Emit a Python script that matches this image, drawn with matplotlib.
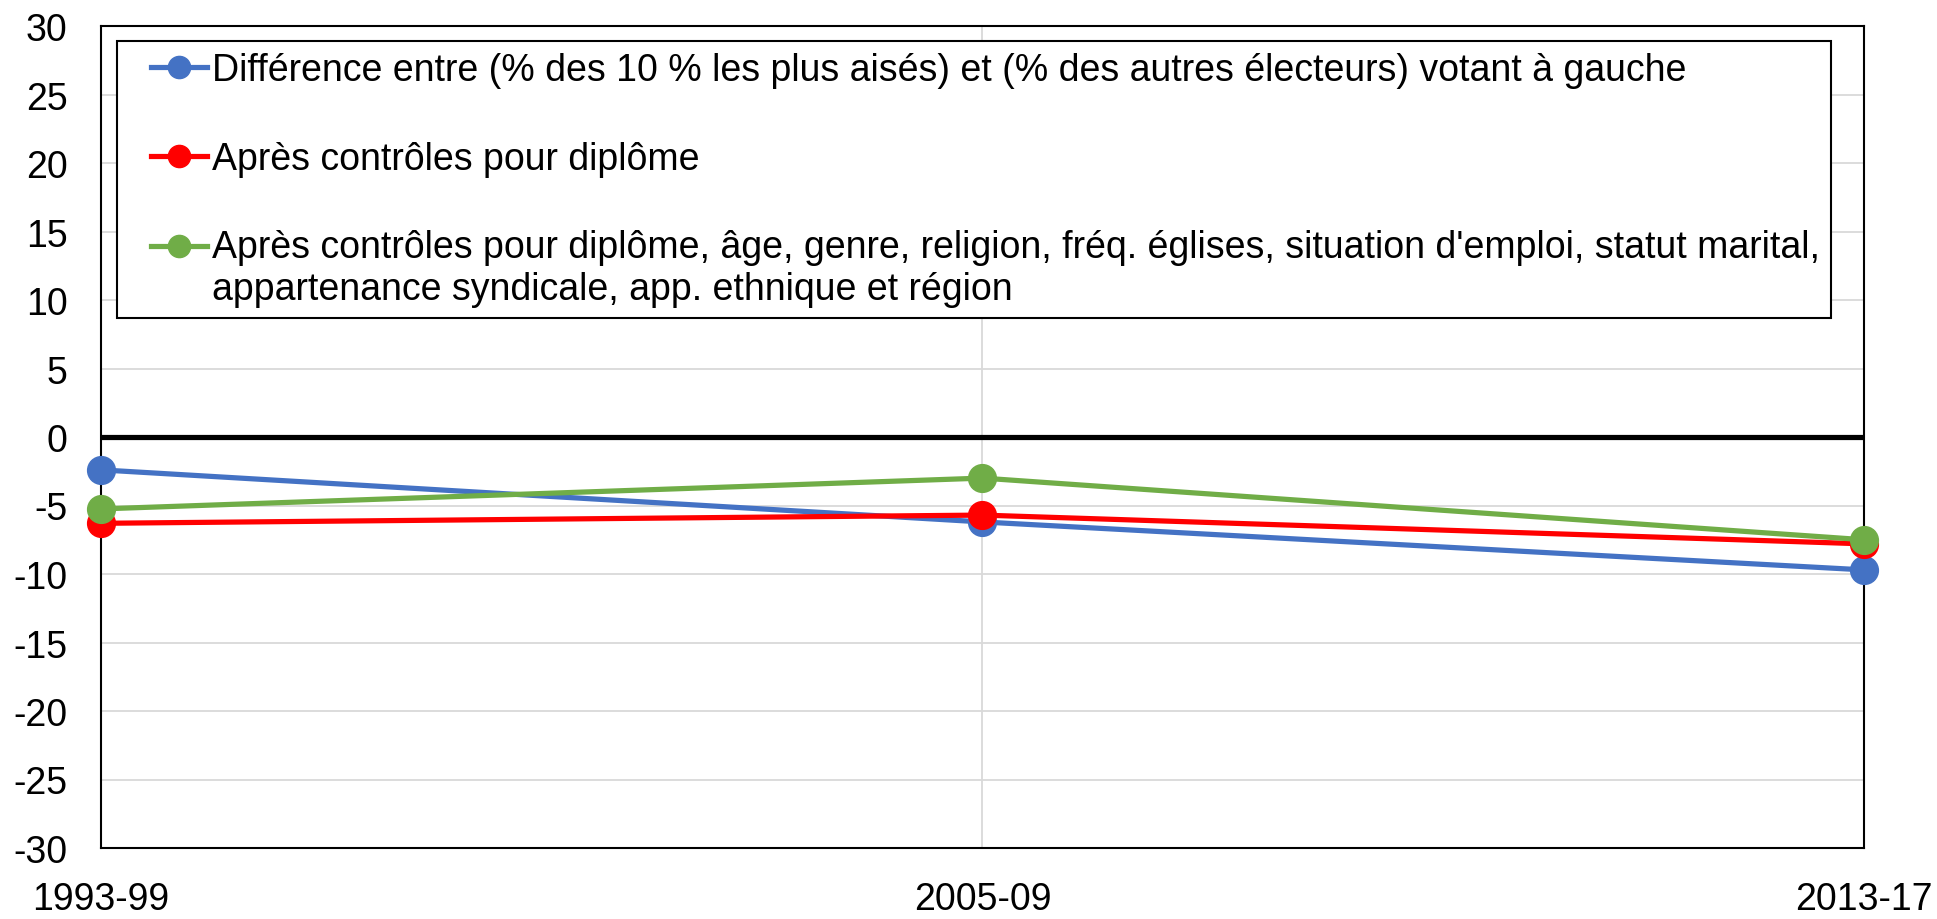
import numpy as np
import matplotlib
matplotlib.use("Agg")
import matplotlib.pyplot as plt
from matplotlib.legend_handler import HandlerLine2D

# ------------------------------- data
periods = ["1993-99", "2005-09", "2013-17"]
diff_raw = [-2.4, -6.2, -9.7]
diff_diplome = [-6.3, -5.7, -7.8]
diff_all_controls = [-5.25, -3.0, -7.5]

labels = [
    "Différence entre (% des 10 % les plus aisés) et (% des autres électeurs) votant à gauche",
    "Après contrôles pour diplôme",
    "Après contrôles pour diplôme, âge, genre, religion, fréq. églises, situation d'emploi, statut marital,\n"
    "appartenance syndicale, app. ethnique et région",
]
colors = ["#4472C4", "#FF0000", "#70AD47"]
yticks = list(range(-30, 35, 5))

plt.rcParams['font.family'] = ['Liberation Sans', 'DejaVu Sans']
plt.rcParams['axes.unicode_minus'] = False
FS = 27


class PaddedLineHandler(HandlerLine2D):
    # draws the legend line only on the right part of the handle box
    # (gives extra left padding), optionally shifted up by dy (in font sizes)
    def __init__(self, length=1.5, dy=0.0, **kwargs):
        super().__init__(**kwargs)
        self.length = length
        self.dy = dy

    def create_artists(self, legend, orig_handle, xdescent, ydescent,
                       width, height, fontsize, trans):
        artists = super().create_artists(legend, orig_handle, xdescent, ydescent,
                                         width, height, fontsize, trans)
        for a in artists:
            xd = np.asarray(a.get_xdata(), dtype=float)
            x0, x1 = xd.min(), xd.max()
            L = self.length * fontsize
            a.set_xdata(x1 - L + (xd - x0) / (x1 - x0) * L)
            a.set_ydata(np.asarray(a.get_ydata(), dtype=float) + self.dy * fontsize)
        return artists


fig = plt.figure(figsize=(19.37, 9.2), dpi=100)
ax = fig.add_axes([101 / 1937, 71 / 920, 1763 / 1937, 822 / 920])

x = np.arange(len(periods))
lines = []
for vals, col, lab in zip([diff_raw, diff_diplome, diff_all_controls], colors, labels):
    ln, = ax.plot(x, vals, color=col, lw=3.75, marker='o', markersize=20,
                  label=lab, zorder=3, clip_on=False)
    lines.append(ln)

ax.axhline(0, color='black', lw=3.75, zorder=2)

ax.set_xlim(0, 2)
ax.set_ylim(-30, 30)
ax.set_yticks(yticks)
ax.set_xticks(x)
ax.set_xticklabels(periods)
ax.tick_params(axis='both', length=0, labelsize=FS)
ax.tick_params(axis='y', pad=24)
ax.tick_params(axis='x', pad=24)
ax.grid(True, color='#d9d9d9', lw=1.3, zorder=0)
ax.set_axisbelow(True)
for s in ax.spines.values():
    s.set_color('black')
    s.set_linewidth(1.5)

leg = ax.legend(handles=lines, loc='upper left',
                bbox_to_anchor=(16 / 1763, 807 / 822), borderaxespad=0,
                fontsize=FS, frameon=True, fancybox=False, framealpha=1,
                edgecolor='black', handlelength=2.1, handletextpad=0.13,
                labelspacing=1.4, borderpad=0.3,
                handler_map={lines[0]: PaddedLineHandler(),
                             lines[1]: PaddedLineHandler(),
                             lines[2]: PaddedLineHandler(dy=0.6)})
leg.get_frame().set_linewidth(1.5)
for h in leg.legend_handles:
    h.set_markersize(16)

fig.savefig("out.png", dpi=100)
